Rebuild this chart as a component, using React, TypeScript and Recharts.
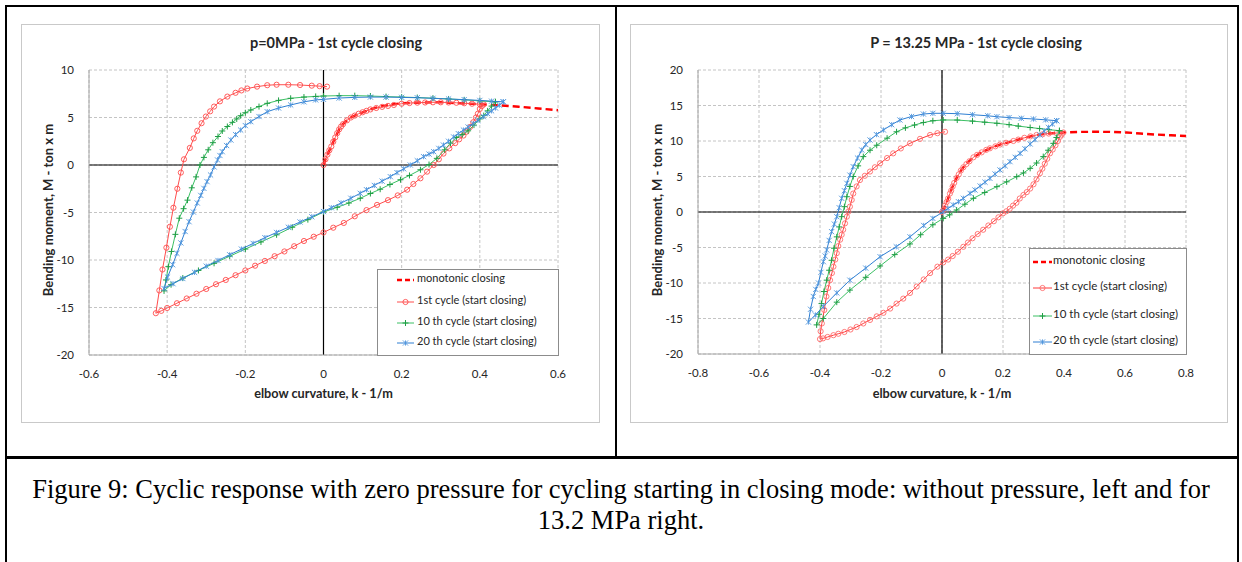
import React from 'react';
import { ScatterChart, Scatter, XAxis, YAxis, CartesianGrid, ReferenceLine } from 'recharts';

type P = [number, number];

const leftTitle = 'p=0MPa - 1st cycle closing';
const rightTitle = 'P = 13.25 MPa - 1st cycle closing';
const xAxisTitle = 'elbow curvature, k - 1/m';
const yAxisTitle = 'Bending moment, M - ton x m';
const seriesNames = ['monotonic closing', '1st cycle (start closing)', '10 th cycle (start closing)', '20 th cycle (start closing)'];
const captionLines = [
  'Figure 9: Cyclic response with zero pressure for cycling starting in closing mode: without pressure, left and for',
  '13.2 MPa right.',
];
const leftXTicks = [-0.6, -0.4, -0.2, 0, 0.2, 0.4, 0.6];
const leftYTicks = [-20, -15, -10, -5, 0, 5, 10];
const rightXTicks = [-0.8, -0.6, -0.4, -0.2, 0, 0.2, 0.4, 0.6, 0.8];
const rightYTicks = [-20, -15, -10, -5, 0, 5, 10, 15, 20];

// ---------- LEFT (p = 0 MPa) ----------
const monoL: P[] = [
  [0, 0], [0.005, 0.6], [0.01, 1.1], [0.02, 1.95], [0.03, 2.9], [0.04, 3.75], [0.05, 4.3], [0.06, 4.7], [0.07, 5.0],
  [0.08, 5.2], [0.1, 5.55], [0.12, 5.85], [0.14, 6.1], [0.17, 6.35], [0.2, 6.5], [0.25, 6.58], [0.3, 6.6], [0.35, 6.5],
  [0.4, 6.4], [0.45, 6.28], [0.5, 6.13], [0.55, 5.95], [0.6, 5.77],
];
const cycle1L: P[] = [
  [0, 0], [0.005, 0.6], [0.01, 1.1], [0.015, 1.55], [0.02, 1.95], [0.025, 2.45], [0.03, 2.9], [0.035, 3.35], [0.04, 3.75],
  [0.045, 4.05], [0.05, 4.3], [0.06, 4.7], [0.07, 5.0], [0.08, 5.2], [0.09, 5.4], [0.1, 5.55], [0.11, 5.7], [0.12, 5.85],
  [0.135, 6.0], [0.15, 6.12], [0.165, 6.22], [0.18, 6.32], [0.2, 6.45], [0.22, 6.52], [0.24, 6.56], [0.26, 6.58],
  [0.28, 6.6], [0.3, 6.6], [0.32, 6.58], [0.34, 6.55], [0.36, 6.5], [0.38, 6.45], [0.4, 6.4], [0.41, 6.38],
  [0.405, 6.2], [0.4, 5.9], [0.395, 5.4], [0.39, 5.0], [0.383, 4.5], [0.375, 4.0], [0.366, 3.5], [0.358, 3.1],
  [0.347, 2.7], [0.337, 2.3], [0.322, 1.75], [0.307, 1.2], [0.295, 0.6], [0.282, 0], [0.265, -0.7], [0.248, -1.4],
  [0.23, -2.0], [0.214, -2.6], [0.19, -3.2], [0.165, -3.7], [0.137, -4.2], [0.11, -4.75], [0.08, -5.4], [0.052, -6.1],
  [0.025, -6.6], [0, -7.1], [-0.025, -7.55], [-0.05, -8.0], [-0.075, -8.55], [-0.1, -9.1], [-0.125, -9.6], [-0.15, -10.1],
  [-0.175, -10.6], [-0.2, -11.1], [-0.225, -11.6], [-0.25, -12.1], [-0.275, -12.55], [-0.3, -13.05], [-0.325, -13.55],
  [-0.35, -14.05], [-0.375, -14.55], [-0.4, -15.05], [-0.415, -15.35], [-0.429, -15.6],
  [-0.42, -13.2], [-0.412, -11.0], [-0.402, -8.7], [-0.393, -6.5], [-0.384, -4.5], [-0.374, -2.5], [-0.365, -0.8],
  [-0.357, 0.6], [-0.342, 1.8], [-0.332, 2.8], [-0.323, 3.6], [-0.312, 4.4], [-0.301, 5.1], [-0.29, 5.65], [-0.28, 6.15],
  [-0.265, 6.7], [-0.246, 7.2], [-0.225, 7.6], [-0.21, 7.85], [-0.195, 8.05], [-0.17, 8.25], [-0.144, 8.4], [-0.12, 8.45],
  [-0.09, 8.45], [-0.06, 8.42], [-0.03, 8.35], [-0.01, 8.3], [0.009, 8.25],
];
const cycle10L: P[] = [
  [0.44, 6.65], [0.43, 6.2], [0.42, 5.7], [0.41, 5.2], [0.4, 4.85], [0.385, 4.2], [0.37, 3.6], [0.355, 3.2], [0.34, 2.9],
  [0.325, 2.3], [0.31, 1.6], [0.29, 0.7], [0.27, 0.05], [0.248, -0.5], [0.22, -1.1], [0.197, -1.55], [0.17, -2.05],
  [0.145, -2.55], [0.12, -3.0], [0.094, -3.5], [0.065, -4.0], [0.035, -4.45], [0, -4.95], [-0.04, -5.75], [-0.08, -6.55],
  [-0.12, -7.35], [-0.16, -8.1], [-0.2, -8.85], [-0.24, -9.6], [-0.28, -10.35], [-0.32, -11.1], [-0.36, -11.9],
  [-0.39, -12.6], [-0.408, -13.25],
  [-0.403, -12.1], [-0.397, -10.7], [-0.389, -9.1], [-0.379, -7.3], [-0.369, -5.6], [-0.358, -4.6], [-0.348, -3.7],
  [-0.337, -2.4], [-0.326, -1.25], [-0.316, 0], [-0.306, 0.8], [-0.295, 1.6], [-0.283, 2.35], [-0.27, 3.0], [-0.259, 3.58],
  [-0.246, 4.05], [-0.233, 4.49], [-0.222, 4.85], [-0.212, 5.19], [-0.2, 5.5], [-0.186, 5.79], [-0.165, 6.15],
  [-0.144, 6.49], [-0.115, 6.8], [-0.084, 7.02], [-0.05, 7.15], [-0.02, 7.22], [0, 7.26], [0.04, 7.3], [0.08, 7.3],
  [0.12, 7.26], [0.16, 7.2], [0.2, 7.15], [0.24, 7.1], [0.28, 7.03], [0.32, 6.95], [0.36, 6.86], [0.4, 6.75], [0.44, 6.65],
];
const cycle20L: P[] = [
  [0.46, 6.65], [0.45, 6.3], [0.44, 6.0], [0.43, 5.7], [0.42, 5.4], [0.409, 5.09], [0.395, 4.7], [0.383, 4.35], [0.37, 4.0],
  [0.358, 3.68], [0.345, 3.3], [0.333, 2.95], [0.32, 2.5], [0.307, 2.1], [0.295, 1.75], [0.282, 1.4], [0.27, 1.15],
  [0.256, 0.88], [0.24, 0.45], [0.222, 0], [0.205, -0.4], [0.188, -0.8], [0.171, -1.23], [0.15, -1.7], [0.13, -2.15],
  [0.11, -2.6], [0.094, -2.98], [0.07, -3.5], [0.045, -4.0], [0.02, -4.5], [0, -4.9], [-0.03, -5.45], [-0.06, -6.0],
  [-0.09, -6.55], [-0.12, -7.1], [-0.15, -7.65], [-0.18, -8.25], [-0.21, -8.85], [-0.24, -9.45], [-0.27, -10.05],
  [-0.3, -10.65], [-0.33, -11.3], [-0.36, -11.95], [-0.385, -12.5], [-0.408, -13.0],
  [-0.399, -11.8], [-0.386, -10.5], [-0.375, -9.3], [-0.365, -8.2], [-0.354, -7.0], [-0.344, -5.97], [-0.333, -4.95],
  [-0.323, -4.0], [-0.314, -3.2], [-0.306, -2.46], [-0.298, -1.75], [-0.289, -1.05], [-0.28, -0.2], [-0.271, 0.53],
  [-0.265, 1.0], [-0.259, 1.4], [-0.248, 2.05], [-0.237, 2.63], [-0.225, 3.2], [-0.212, 3.68], [-0.2, 4.15], [-0.186, 4.56],
  [-0.165, 5.1], [-0.144, 5.61], [-0.115, 6.0], [-0.084, 6.32], [-0.05, 6.65], [-0.02, 6.85], [0, 6.91], [0.04, 7.05],
  [0.08, 7.12], [0.12, 7.15], [0.16, 7.15], [0.2, 7.12], [0.24, 7.08], [0.28, 7.02], [0.32, 6.95], [0.36, 6.88],
  [0.4, 6.8], [0.43, 6.72], [0.46, 6.65],
];

// ---------- RIGHT (p = 13.25 MPa) ----------
const monoR: P[] = [
  [0, 0], [0.005, 0.3], [0.01, 0.9], [0.015, 1.4], [0.02, 1.9], [0.026, 2.6], [0.035, 3.6], [0.048, 4.8], [0.06, 5.7],
  [0.07, 6.3], [0.085, 7.0], [0.103, 7.7], [0.13, 8.4], [0.157, 8.97], [0.19, 9.5], [0.234, 10.0], [0.27, 10.45],
  [0.31, 10.85], [0.35, 11.05], [0.398, 11.2], [0.45, 11.28], [0.507, 11.3], [0.55, 11.28], [0.605, 11.2], [0.65, 11.05],
  [0.704, 10.9], [0.75, 10.8], [0.8, 10.7],
];
const cycle1R: P[] = [
  [0, 0], [0.005, 0.3], [0.01, 0.9], [0.015, 1.4], [0.02, 1.9], [0.026, 2.6], [0.03, 3.0], [0.035, 3.6], [0.04, 4.1],
  [0.048, 4.8], [0.055, 5.3], [0.062, 5.85], [0.07, 6.3], [0.08, 6.75], [0.09, 7.15], [0.103, 7.7], [0.115, 8.05],
  [0.13, 8.4], [0.145, 8.75], [0.157, 8.97], [0.175, 9.25], [0.19, 9.5], [0.21, 9.75], [0.234, 10.0], [0.25, 10.2],
  [0.27, 10.45], [0.29, 10.65], [0.31, 10.85], [0.33, 10.95], [0.35, 11.05], [0.375, 11.12], [0.398, 11.2],
  [0.392, 10.9], [0.387, 10.6], [0.38, 10.0], [0.372, 9.4], [0.363, 8.8], [0.354, 8.26], [0.345, 7.5], [0.337, 6.8],
  [0.329, 6.1], [0.321, 5.45], [0.31, 4.6], [0.3, 3.9], [0.289, 3.3], [0.278, 2.8], [0.267, 2.4], [0.255, 1.9],
  [0.244, 1.3], [0.233, 0.9], [0.222, 0.45], [0.211, 0.1], [0.2, -0.19], [0.185, -0.75], [0.17, -1.3], [0.152, -1.9],
  [0.135, -2.5], [0.117, -3.1], [0.1, -3.7], [0.085, -4.3], [0.07, -4.9], [0.052, -5.6], [0.035, -6.2], [0.02, -6.7],
  [0.004, -7.1], [-0.015, -7.7], [-0.039, -8.6], [-0.06, -9.5], [-0.083, -10.5], [-0.105, -11.4], [-0.127, -12.2],
  [-0.149, -12.9], [-0.17, -13.6], [-0.192, -14.2], [-0.214, -14.7], [-0.236, -15.2], [-0.258, -15.7], [-0.28, -16.2],
  [-0.3, -16.55], [-0.32, -16.9], [-0.34, -17.15], [-0.356, -17.35], [-0.375, -17.6], [-0.39, -17.8], [-0.4, -17.9],
  [-0.398, -16.8], [-0.394, -15.7], [-0.386, -13.8], [-0.379, -11.9], [-0.373, -10.7], [-0.367, -9.6], [-0.361, -8.6],
  [-0.356, -7.7], [-0.35, -6.7], [-0.345, -5.8], [-0.34, -4.8], [-0.334, -3.9], [-0.329, -3.2], [-0.324, -2.5],
  [-0.318, -1.6], [-0.312, -0.66], [-0.307, 0.05], [-0.302, 0.75], [-0.296, 1.7], [-0.291, 2.6], [-0.28, 3.6],
  [-0.269, 4.5], [-0.253, 5.1], [-0.236, 5.7], [-0.22, 6.3], [-0.203, 6.86], [-0.18, 7.6], [-0.16, 8.26], [-0.135, 8.95],
  [-0.105, 9.67], [-0.072, 10.3], [-0.039, 10.85], [-0.015, 11.1], [0.01, 11.3],
];
const cycle10R: P[] = [
  [0.385, 11.45], [0.375, 10.5], [0.365, 9.67], [0.348, 8.7], [0.332, 7.8], [0.31, 6.9], [0.289, 6.15], [0.267, 5.5],
  [0.245, 4.98], [0.212, 4.25], [0.18, 3.57], [0.14, 2.75], [0.103, 1.93], [0.075, 1.1], [0.048, 0.28], [0.025, -0.4],
  [0.004, -0.9], [-0.03, -1.8], [-0.07, -3.2], [-0.105, -4.5], [-0.155, -6.0], [-0.203, -7.6], [-0.25, -9.2],
  [-0.302, -11.0], [-0.345, -12.7], [-0.389, -15.0], [-0.411, -15.9],
  [-0.403, -14.4], [-0.395, -12.9], [-0.387, -11.2], [-0.378, -9.6], [-0.37, -8.2], [-0.362, -6.8], [-0.354, -5.1],
  [-0.345, -3.5], [-0.337, -2.1], [-0.329, -0.66], [-0.32, 0.75], [-0.312, 2.15], [-0.302, 3.6], [-0.291, 5.0],
  [-0.275, 6.5], [-0.258, 7.8], [-0.236, 8.7], [-0.214, 9.4], [-0.18, 10.4], [-0.149, 11.3], [-0.12, 11.85],
  [-0.09, 12.25], [-0.061, 12.6], [-0.03, 12.85], [0.004, 12.96], [0.05, 12.95], [0.1, 12.8], [0.14, 12.65],
  [0.18, 12.5], [0.22, 12.3], [0.25, 12.1], [0.289, 11.9], [0.32, 11.75], [0.35, 11.6], [0.385, 11.45],
];
const cycle20R: P[] = [
  [0.376, 12.86], [0.362, 12.4], [0.349, 11.92], [0.335, 11.4], [0.321, 10.85], [0.305, 10.2], [0.289, 9.58],
  [0.272, 8.9], [0.256, 8.26], [0.24, 7.7], [0.223, 7.09], [0.207, 6.5], [0.19, 5.92], [0.174, 5.35], [0.157, 4.74],
  [0.141, 4.2], [0.125, 3.66], [0.108, 3.1], [0.092, 2.63], [0.07, 1.93], [0.054, 1.45], [0.037, 0.99], [0.02, 0.5],
  [0.004, 0.04], [-0.03, -0.9], [-0.06, -1.9], [-0.105, -3.5], [-0.15, -4.9], [-0.203, -6.3], [-0.25, -7.9],
  [-0.302, -9.6], [-0.345, -11.4], [-0.389, -13.3], [-0.415, -14.5], [-0.438, -15.5],
  [-0.431, -13.7], [-0.422, -11.9], [-0.414, -10.9], [-0.405, -10.0], [-0.397, -8.5], [-0.389, -7.0], [-0.383, -6.2],
  [-0.378, -5.35], [-0.37, -4.0], [-0.362, -2.77], [-0.353, -1.7], [-0.345, -0.66], [-0.337, 0.6], [-0.329, 1.93],
  [-0.32, 3.0], [-0.312, 4.04], [-0.302, 5.2], [-0.291, 6.38], [-0.277, 7.6], [-0.263, 8.73], [-0.25, 9.5],
  [-0.236, 10.14], [-0.215, 10.9], [-0.192, 11.55], [-0.165, 12.3], [-0.138, 12.96], [-0.1, 13.45], [-0.061, 13.8],
  [-0.03, 13.9], [0.004, 13.9], [0.05, 13.85], [0.1, 13.7], [0.15, 13.55], [0.18, 13.42], [0.22, 13.3], [0.26, 13.2],
  [0.3, 13.1], [0.34, 12.98], [0.376, 12.86],
];

const toPts = (arr: P[]) => arr.map(([k, m]) => ({ k, m }));

const FONT = 'Lato, "Open Sans", sans-serif';
const TXT = '#262626';

type Kind = 'none' | 'circle' | 'plus' | 'cross';
type Style = { line: string; marker: string; width: number; dash?: string; kind: Kind };

const drawMarker = (kind: Kind, color: string, cx: number, cy: number) => {
  if (kind === 'circle') return <circle cx={cx} cy={cy} r={2.6} fill="none" stroke={color} strokeWidth={0.9} />;
  if (kind === 'plus')
    return <path d={`M${cx - 3},${cy}h6M${cx},${cy - 3}v6`} stroke={color} strokeWidth={1} fill="none" />;
  if (kind === 'cross')
    return (
      <path
        d={`M${cx - 2.6},${cy - 2.6}l5.2,5.2M${cx - 2.6},${cy + 2.6}l5.2,-5.2M${cx},${cy - 2.6}v5.2`}
        stroke={color}
        strokeWidth={0.9}
        fill="none"
      />
    );
  return <g />;
};

const leftStyles: Style[] = [
  { line: '#ff0000', marker: '#ff0000', width: 2.4, dash: '7 4', kind: 'none' },
  { line: '#ff4d4d', marker: '#ff4d4d', width: 1, kind: 'circle' },
  { line: '#3cc064', marker: '#1f9e45', width: 1, kind: 'plus' },
  { line: '#2f7fd3', marker: '#4f95dd', width: 1, kind: 'cross' },
];
const rightStyles: Style[] = [
  { line: '#ff0000', marker: '#ff0000', width: 2.4, dash: '7 4', kind: 'none' },
  { line: '#ff3b3b', marker: '#ff6b6b', width: 1, kind: 'circle' },
  { line: '#3cc064', marker: '#1f9e45', width: 1, kind: 'plus' },
  { line: '#2f7fd3', marker: '#4f95dd', width: 1, kind: 'cross' },
];

type PanelProps = {
  left: number;
  top: number;
  width: number;
  height: number;
  mb: number;
  title: string;
  titleX: number;
  xTicks: number[];
  yTicks: number[];
  series: P[][];
  styles: Style[];
  legend: { x: number; y: number; w: number; h: number; rows: number[]; iconX: number; iconW: number; textX: number; fs: number };
};

const Panel = (p: PanelProps) => {
  const xDomain: [number, number] = [p.xTicks[0], p.xTicks[p.xTicks.length - 1]];
  const yDomain: [number, number] = [p.yTicks[0], p.yTicks[p.yTicks.length - 1]];
  const plotLeft = p.left + 68;
  const plotRight = p.left + p.width - 42;
  const plotMid = (plotLeft + plotRight) / 2;
  return (
    <>
      <div
        style={{
          position: 'absolute',
          left: p.left,
          top: p.top,
          width: p.width - 2,
          height: p.height - 2,
          border: '1px solid #c9c9c9',
          background: '#fff',
        }}
      />
      <div style={{ position: 'absolute', left: p.left, top: p.top }}>
        <ScatterChart width={p.width} height={p.height} margin={{ top: 46, right: 42, bottom: p.mb, left: 0 }}>
          <CartesianGrid stroke="#c4c4c4" strokeDasharray="3 2" />
          <XAxis
            type="number"
            dataKey="k"
            domain={xDomain}
            ticks={p.xTicks}
            interval={0}
            height={20}
            axisLine={{ stroke: '#a6a6a6' }}
            tickLine={false}
            tickMargin={9}
            tick={{ fill: TXT, fontSize: 11.5, fontFamily: FONT }}
          />
          <YAxis
            type="number"
            dataKey="m"
            domain={yDomain}
            ticks={p.yTicks}
            interval={0}
            width={68}
            axisLine={{ stroke: '#a6a6a6' }}
            tickLine={false}
            tickMargin={9}
            tick={{ fill: TXT, fontSize: 11.5, fontFamily: FONT }}
          />
          <ReferenceLine x={0} stroke="#000" strokeWidth={1.2} />
          <ReferenceLine y={0} stroke="#000" strokeWidth={1.2} />
          {p.series.map((s, i) => {
            const st = p.styles[i];
            return (
              <Scatter
                key={i}
                name={seriesNames[i]}
                data={toPts(s)}
                fill={st.line}
                line={{ stroke: st.line, strokeWidth: st.width, strokeDasharray: st.dash }}
                lineType="joint"
                shape={(props: any) => drawMarker(st.kind, st.marker, props.cx, props.cy)}
                isAnimationActive={false}
              />
            );
          })}
        </ScatterChart>
      </div>
      <div
        style={{
          position: 'absolute',
          left: p.titleX - 200,
          width: 400,
          top: 34,
          textAlign: 'center',
          font: `bold 14.5px ${FONT}`,
          color: TXT,
        }}
      >
        {p.title}
      </div>
      <div
        style={{
          position: 'absolute',
          left: plotMid - 150,
          width: 300,
          top: 385,
          textAlign: 'center',
          font: `bold 12.7px ${FONT}`,
          color: TXT,
        }}
      >
        {xAxisTitle}
      </div>
      <div
        style={{
          position: 'absolute',
          left: p.left + 27 - 150,
          width: 300,
          top: 210 - 8,
          height: 16,
          lineHeight: '16px',
          textAlign: 'center',
          transform: 'rotate(-90deg)',
          font: `bold 13px ${FONT}`,
          color: TXT,
        }}
      >
        {yAxisTitle}
      </div>
      <div
        style={{
          position: 'absolute',
          left: p.legend.x,
          top: p.legend.y,
          width: p.legend.w - 2,
          height: p.legend.h - 2,
          border: '1px solid #8c8c8c',
          background: '#fff',
        }}
      />
      {seriesNames.map((n, i) => {
        const st = p.styles[i];
        const cy = p.legend.rows[i];
        const x0 = p.legend.iconX;
        const w = p.legend.iconW;
        return (
          <React.Fragment key={n}>
            <svg style={{ position: 'absolute', left: x0, top: cy - 5 }} width={w} height={10}>
              <line
                x1={0}
                y1={5}
                x2={w}
                y2={5}
                stroke={st.line}
                strokeWidth={st.width}
                strokeDasharray={st.dash ? '5 3' : undefined}
              />
              {drawMarker(st.kind, st.marker, w / 2, 5)}
            </svg>
            <div
              style={{
                position: 'absolute',
                left: p.legend.textX,
                top: cy - 9,
                height: 18,
                lineHeight: '18px',
                whiteSpace: 'nowrap',
                font: `${p.legend.fs}px ${FONT}`,
                color: TXT,
              }}
            >
              {n}
            </div>
          </React.Fragment>
        );
      })}
    </>
  );
};

export default function App() {
  return (
    <div style={{ position: 'absolute', left: 0, top: 0, width: 1242, height: 562, background: '#fff', overflow: 'hidden' }}>
      <div style={{ position: 'absolute', left: 5, top: 5, width: 1234, height: 2, background: '#000' }} />
      <div style={{ position: 'absolute', left: 5, top: 5, width: 2, height: 557, background: '#000' }} />
      <div style={{ position: 'absolute', left: 1237, top: 5, width: 2, height: 557, background: '#000' }} />
      <div style={{ position: 'absolute', left: 615, top: 5, width: 2, height: 453, background: '#000' }} />
      <div style={{ position: 'absolute', left: 5, top: 456, width: 1234, height: 3, background: '#000' }} />

      <Panel
        left={21}
        top={24}
        width={579}
        height={399}
        mb={48}
        title={leftTitle}
        titleX={336}
        xTicks={leftXTicks}
        yTicks={leftYTicks}
        series={[monoL, cycle1L, cycle10L, cycle20L]}
        styles={leftStyles}
        legend={{ x: 377, y: 269, w: 182, h: 87, rows: [280, 302, 323, 343], iconX: 397, iconW: 17, textX: 417, fs: 11 }}
      />
      <Panel
        left={630}
        top={24}
        width={598}
        height={399}
        mb={49}
        title={rightTitle}
        titleX={976}
        xTicks={rightXTicks}
        yTicks={rightYTicks}
        series={[monoR, cycle1R, cycle10R, cycle20R]}
        styles={rightStyles}
        legend={{ x: 1029, y: 248, w: 158, h: 107, rows: [262, 288, 316, 342], iconX: 1033, iconW: 19, textX: 1053, fs: 11.5 }}
      />

      <div
        style={{
          position: 'absolute',
          left: 0,
          width: 1242,
          top: 474,
          textAlign: 'center',
          font: '26.5px "Liberation Serif", "Times New Roman", serif',
          lineHeight: '31px',
          color: '#000',
        }}
      >
        <div>{captionLines[0]}</div>
        <div>{captionLines[1]}</div>
      </div>
    </div>
  );
}
